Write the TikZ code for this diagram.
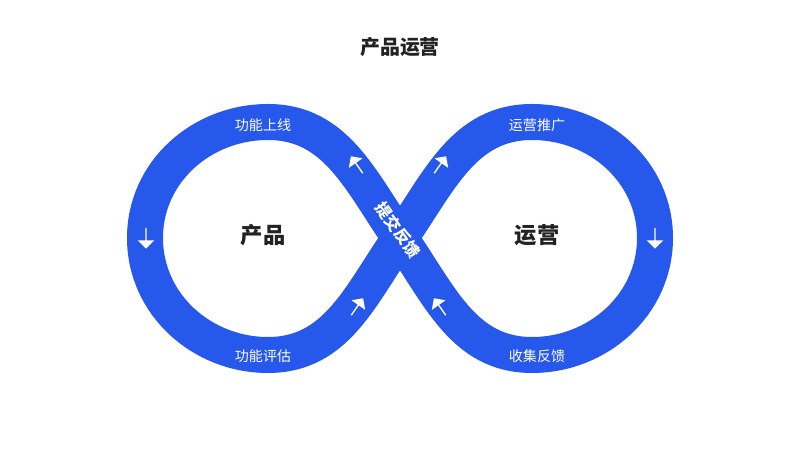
\documentclass[tikz,border=0pt]{standalone}
\usepackage{fontspec}
\newfontfamily\cjk{Noto Sans CJK SC}
\usetikzlibrary{shapes.arrows, positioning}
\definecolor{loopblue}{RGB}{38,88,236}
\definecolor{textdark}{RGB}{34,34,34}

\begin{document}
\begin{tikzpicture}[x=0.03cm, y=0.03cm,
        steplabel/.style={font=\cjk\fontsize{12}{12}\selectfont, text=white},
        core/.style={font=\cjk\bfseries\fontsize{19}{19}\selectfont, text=textdark},
        flow/.style={single arrow, fill=white, minimum height=0.62cm, minimum width=0.5cm, single arrow head extend=0.08cm, inner sep=0pt}
    ]
\useasboundingbox (0,0) rectangle (800,450);

% Title
\node[font=\cjk\bfseries\fontsize{17}{17}\selectfont, text=textdark] (title) at (400,403) {产品运营};

% Infinity loop
\coordinate (cross) at (400,212);
\coordinate (ltop) at (268,328);
\coordinate (lleft) at (145,212);
\coordinate (lbot) at (268,95);
\coordinate (rtop) at (532,328);
\coordinate (rright) at (655,212);
\coordinate (rbot) at (532,95);
\draw[loopblue, line width=1.08cm]
    (cross) to[out=125, in=0] (ltop) to[out=180, in=90] (lleft)
    to[out=270, in=180] (lbot) to[out=0, in=235] (cross)
    to[out=55, in=180] (rtop) to[out=0, in=90] (rright)
    to[out=270, in=0] (rbot) to[out=180, in=305] (cross);

% Stage labels
\node[steplabel] (launch) at (263,325) {功能上线};
\node[steplabel] (review) at (263,94) {功能评估};
\node[steplabel] (promo) at (537,325) {运营推广};
\node[steplabel] (collect) at (537,94) {收集反馈};
\node[font=\cjk\bfseries\fontsize{13.5}{13.5}\selectfont, text=white, rotate=-55] (submit) at (398,220) {提交反馈};

% Centre labels
\node[core] (product) at (263,215) {产品};
\node[core] (ops) at (537,215) {运营};

% Direction arrows
\node[flow, rotate=-90] (a1) at (146,212) {};
\node[flow, rotate=125] (a2) at (357,285) {};
\node[flow, rotate=55] (a3) at (357,143) {};
\node[flow, rotate=55] (a4) at (440,285) {};
\node[flow, rotate=125] (a5) at (440,143) {};
\node[flow, rotate=-90] (a6) at (655,212) {};

\end{tikzpicture}
\end{document}
